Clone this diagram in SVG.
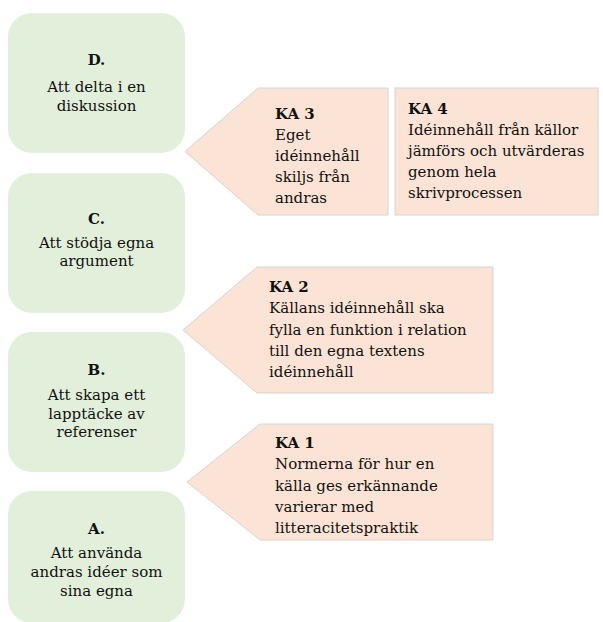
<svg xmlns="http://www.w3.org/2000/svg" width="603" height="622" viewBox="0 0 603 622">
<style>
  .g { fill: #E2EFDA; }
  .p { fill: #FBE4D5; stroke: #d4d4d4; stroke-width: 1; }
  text { font-family: "DejaVu Serif", "Liberation Serif", serif; font-size: 15px; fill: #111; }
  .c { text-anchor: middle; }
  .b { font-weight: bold; }
</style>
<rect width="603" height="622" fill="#ffffff"/>
<g id="connectors"></g>
<g id="nodeD">
  <rect class="g" x="8" y="13" width="177" height="140" rx="24"/>
  <text class="c b" x="96.5" y="65">D.</text>
  <text class="c" x="96.5" y="92">Att delta i en</text>
  <text class="c" x="96.5" y="111">diskussion</text>
</g>
<g id="nodeC">
  <rect class="g" x="8" y="173" width="177" height="140" rx="24"/>
  <text class="c b" x="96.5" y="224">C.</text>
  <text class="c" x="96.5" y="248">Att stödja egna</text>
  <text class="c" x="96.5" y="266">argument</text>
</g>
<g id="nodeB">
  <rect class="g" x="8" y="332" width="177" height="140" rx="24"/>
  <text class="c b" x="96.5" y="375">B.</text>
  <text class="c" x="96.5" y="400">Att skapa ett</text>
  <text class="c" x="96.5" y="418.5">lapptäcke av</text>
  <text class="c" x="96.5" y="437">referenser</text>
</g>
<g id="nodeA">
  <rect class="g" x="8" y="491" width="177" height="132" rx="24"/>
  <text class="c b" x="96.5" y="534">A.</text>
  <text class="c" x="96.5" y="558">Att använda</text>
  <text class="c" x="96.5" y="577">andras idéer som</text>
  <text class="c" x="96.5" y="596">sina egna</text>
</g>
<g id="nodeKA3">
  <polygon class="p" points="185,151.5 258,88 388,88 388,215 258,215"/>
  <text class="b" x="275" y="119">KA 3</text>
  <text x="275" y="140">Eget</text>
  <text x="275" y="161">idéinnehåll</text>
  <text x="275" y="182">skiljs från</text>
  <text x="275" y="203">andras</text>
</g>
<g id="nodeKA4">
  <rect class="p" x="395" y="88" width="203" height="127"/>
  <text class="b" x="408" y="114">KA 4</text>
  <text x="408" y="135">Idéinnehåll från källor</text>
  <text x="408" y="156">jämförs och utvärderas</text>
  <text x="408" y="177">genom hela</text>
  <text x="408" y="198">skrivprocessen</text>
</g>
<g id="nodeKA2">
  <polygon class="p" points="183,330 257,267 493,267 493,393 257,393"/>
  <text class="b" x="269" y="292">KA 2</text>
  <text x="269" y="313">Källans idéinnehåll ska</text>
  <text x="269" y="335">fylla en funktion i relation</text>
  <text x="269" y="356">till den egna textens</text>
  <text x="269" y="377">idéinnehåll</text>
</g>
<g id="nodeKA1">
  <polygon class="p" points="187,482 260,424 493,424 493,540 260,540"/>
  <text class="b" x="275" y="448">KA 1</text>
  <text x="275" y="469">Normerna för hur en</text>
  <text x="275" y="491">källa ges erkännande</text>
  <text x="275" y="512">varierar med</text>
  <text x="275" y="533">litteracitetspraktik</text>
</g>
</svg>
